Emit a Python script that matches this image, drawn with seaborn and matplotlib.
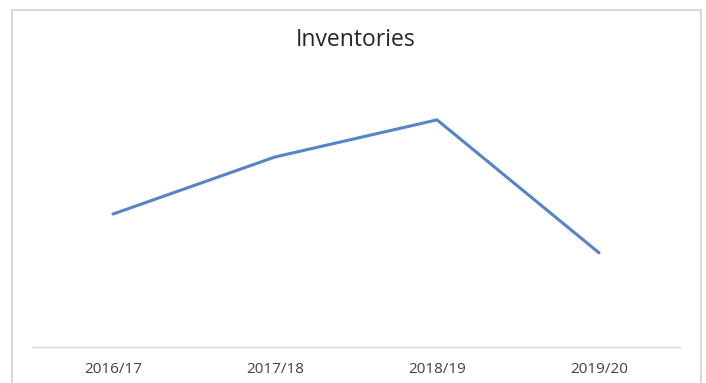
import matplotlib
matplotlib.use("Agg")
import matplotlib.pyplot as plt
import seaborn as sns
import pandas as pd
from matplotlib.patches import Rectangle

years = ["2016/17", "2017/18", "2018/19", "2019/20"]
inventories = [48, 68.6, 82, 34]

sns.set_theme(style="white")
plt.rcParams['font.family'] = ['Open Sans', 'DejaVu Sans']

df = pd.DataFrame({"year": years, "value": inventories})

fig = plt.figure(figsize=(7.06, 3.83), dpi=100)
ax = fig.add_axes([32/706, 36/383, 648/706, 277/383])
sns.lineplot(data=df, x="year", y="value", ax=ax, color="#5585c5", linewidth=2.2, sort=False)
ax.set_xlim(-0.5, 3.5)
ax.set_ylim(0, 100)
ax.set_yticks([])
ax.set_xlabel("")
ax.set_ylabel("")
for s in ["left", "right", "top"]:
    ax.spines[s].set_visible(False)
ax.spines["bottom"].set_color("#d9d9d9")
ax.spines["bottom"].set_linewidth(1.0)
ax.tick_params(axis="x", length=0, pad=10.5, labelsize=11, labelcolor="#404040")

fig.text(356/706, 1 - 40/383, "Inventories", ha="center", va="center", fontsize=16.5, color="#262626")

fig.patches.append(Rectangle((11.5/706, -0.05), 689.5/706, 1.05 - 9.5/383, transform=fig.transFigure,
                             fill=False, edgecolor="#d9d9d9", linewidth=1.5, zorder=0))

fig.savefig("out.png", dpi=100)
